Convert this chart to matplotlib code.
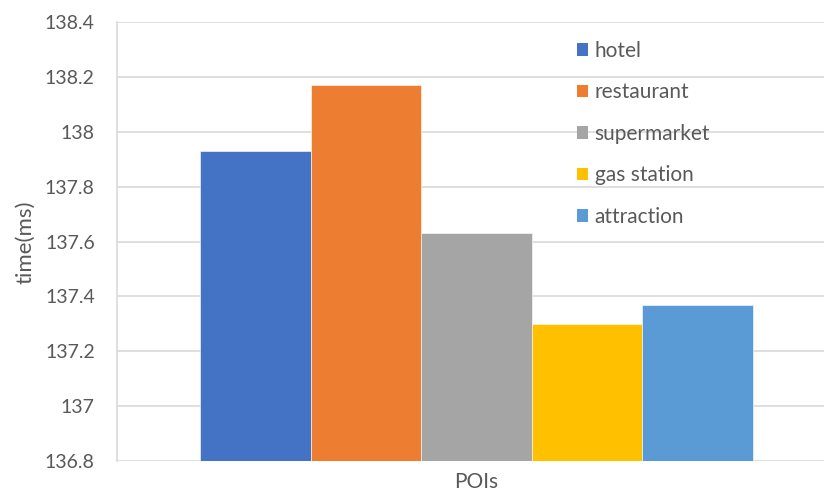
import matplotlib
matplotlib.use("Agg")
import matplotlib.pyplot as plt
from matplotlib.patches import Patch

categories = ["hotel", "restaurant", "supermarket", "gas station", "attraction"]
values = [137.93, 138.17, 137.63, 137.30, 137.37]
colors = ["#4472C4", "#ED7D31", "#A5A5A5", "#FFC000", "#5B9BD5"]
yticks = [136.8, 137.0, 137.2, 137.4, 137.6, 137.8, 138.0, 138.2, 138.4]
ytick_labels = ["136.8", "137", "137.2", "137.4", "137.6", "137.8", "138", "138.2", "138.4"]

plt.rcParams["font.family"] = ["Lato", "DejaVu Sans"]
text_color = "#595959"
grid_color = "#D9D9D9"

W, H = 824, 492
fig = plt.figure(figsize=(W / 100, H / 100), dpi=100)
ax = fig.add_axes([117 / W, 31 / H, 719 / W, 439 / H])

base = yticks[0]
n = len(categories)
for i, (cat, v, c) in enumerate(zip(categories, values, colors)):
    ax.bar(i - (n - 1) / 2, v - base, bottom=base, width=1.0, color=c,
           edgecolor="white", linewidth=0.4, zorder=3, label=cat)

ax.set_xlim(-3.25, 3.25)
ax.set_ylim(yticks[0], yticks[-1])
ax.set_yticks(yticks)
ax.set_yticklabels(ytick_labels)
ax.set_xticks([])
ax.yaxis.grid(True, color=grid_color, linewidth=1.2, zorder=0)
for s in ["top", "right", "bottom"]:
    ax.spines[s].set_visible(False)
ax.spines["left"].set_color(grid_color)
ax.spines["left"].set_linewidth(1.2)
ax.tick_params(axis="y", length=0, pad=16, labelsize=14, labelcolor=text_color)

fig.text(25 / W, 1 - 242 / H, "time(ms)", fontsize=16, color=text_color,
         rotation=90, ha="center", va="center")
fig.text(476 / W, 1 - 482 / H, "POIs", fontsize=15, color=text_color,
         ha="center", va="center")

handles = [Patch(facecolor=c, edgecolor="none") for c in colors]
leg = fig.legend(handles, categories, loc="upper left",
                 bbox_to_anchor=(577 / W, 1 - 41 / H), frameon=False,
                 fontsize=15, labelcolor=text_color, handlelength=0.55,
                 handleheight=0.55, handletextpad=0.3, labelspacing=1.03,
                 borderpad=0, borderaxespad=0)

fig.savefig("out.png", dpi=100)
